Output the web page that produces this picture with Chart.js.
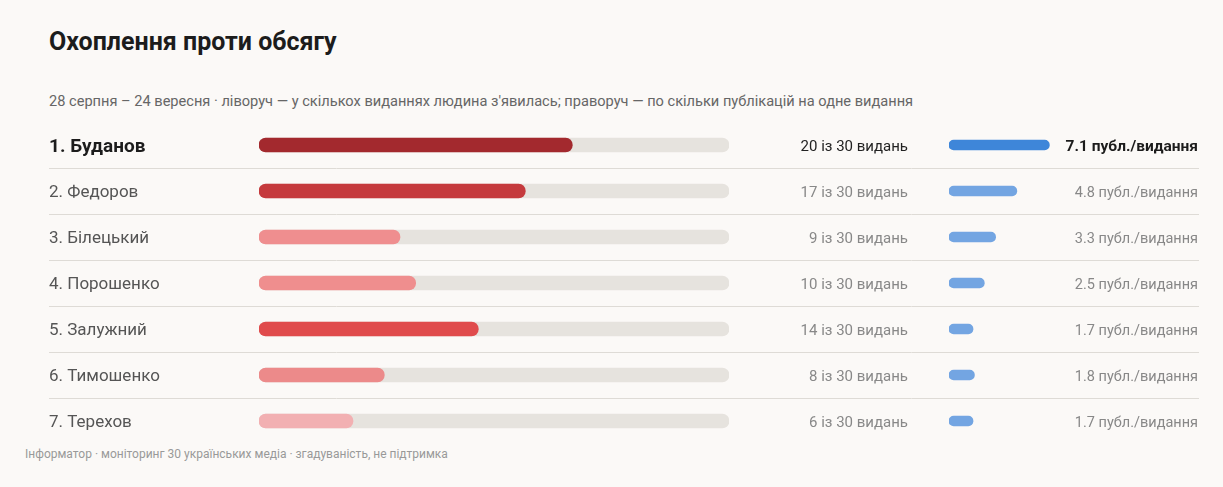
<!DOCTYPE html>
<html lang="uk">
<head>
<meta charset="utf-8">
<title>Охоплення проти обсягу</title>
<script src="https://cdn.jsdelivr.net/npm/chart.js@4.4.1/dist/chart.umd.min.js"></script>
<style>
    html, body {
        margin: 0;
        padding: 0;
        background: #fbf9f7;
        font-family: Roboto, "Noto Sans", sans-serif;
    }
    #page {
        position: relative;
        width: 1223px;
        height: 487px;
        overflow: hidden;
    }
    .title {
        position: absolute;
        left: 49px;
        top: 27px;
        font-size: 25px;
        font-weight: 700;
        color: #1c1c1c;
        white-space: nowrap;
    }
    .subtitle {
        position: absolute;
        left: 49px;
        top: 92px;
        font-size: 14.6px;
        color: #666;
        white-space: nowrap;
    }
    .footer {
        position: absolute;
        left: 25px;
        top: 447px;
        font-size: 12px;
        color: #999;
        white-space: nowrap;
    }
    .layer {
        position: absolute;
        left: 0;
        top: 122px;
        width: 1223px;
        height: 322px;
    }
</style>
</head>
<body>
<div id="page">
    <div class="title">Охоплення проти обсягу</div>
    <div class="subtitle">28 серпня – 24 вересня · ліворуч — у скількох виданнях людина з'явилась; праворуч — по скільки публікацій на одне видання</div>
    <div class="layer"><canvas id="coverageChart"></canvas></div>
    <div class="layer"><canvas id="volumeChart"></canvas></div>
    <div class="footer">Інформатор · моніторинг 30 українських медіа · згадуваність, не підтримка</div>
</div>

<script>
// People, in ranking order
const names = ['1. Буданов', '2. Федоров', '3. Білецький', '4. Порошенко', '5. Залужний', '6. Тимошенко', '7. Терехов'];

// How many of the 30 outlets mentioned the person
const outletsTotal = 30;
const outlets = [20, 17, 9, 10, 14, 8, 6];

// Publications per outlet
const pubsPerOutlet = [7.1, 4.8, 3.3, 2.5, 1.7, 1.8, 1.7];

const coverageColors = ['#a3292e', '#c53a3d', '#ef8e8f', '#ef8e8e', '#e04b4c', '#ec8a8a', '#f2b0b2'];
const volumeColors = ['#3e86d9', '#73a5e2', '#73a5e2', '#73a5e2', '#73a5e2', '#73a5e2', '#73a5e2'];

const coverageLabels = outlets.map(n => `${n} із ${outletsTotal} видань`);
const volumeLabels = pubsPerOutlet.map(v => `${v.toFixed(1)} публ./видання`);

Chart.defaults.font.family = 'Roboto, "Noto Sans", sans-serif';
Chart.defaults.animation = false;

// first row is the leader: bold and a touch larger
const leadFont = (size, leadSize) => (ctx) => ({
    size: ctx.index === 0 ? leadSize : size,
    weight: ctx.index === 0 ? '700' : '400'
});

// row axes: fixed width, no extra label padding so rows fill the area
const fixAxis = (width) => (scale) => {
    scale.width = width;
    scale.paddingTop = 0;
    scale.paddingBottom = 0;
};

// thin rules between rows, across the whole width
const rowRules = {
    id: 'rowRules',
    beforeDatasetsDraw(chart) {
        const y = chart.scales.y;
        const ctx = chart.ctx;
        ctx.save();
        ctx.strokeStyle = '#dedbd6';
        ctx.lineWidth = 1;
        for (let i = 0; i < names.length - 1; i++) {
            const py = Math.round((y.getPixelForValue(i) + y.getPixelForValue(i + 1)) / 2) + 0.5;
            ctx.beginPath();
            ctx.moveTo(49, py);
            ctx.lineTo(1199, py);
            ctx.stroke();
        }
        ctx.restore();
    }
};

/**
 * Left block: outlets out of 30
 */
new Chart(document.getElementById('coverageChart'), {
    type: 'bar',
    data: {
        labels: names,
        datasets: [{
            label: 'Видань',
            data: outlets,
            backgroundColor: coverageColors,
            barThickness: 14,
            borderRadius: 7,
            borderSkipped: false,
            grouped: false
        }, {
            label: 'Всього',
            data: names.map(() => outletsTotal),
            backgroundColor: '#e6e3de',
            barThickness: 14,
            borderRadius: 7,
            borderSkipped: false,
            grouped: false
        }]
    },
    options: {
        indexAxis: 'y',
        responsive: true,
        maintainAspectRatio: false,
        layout: { padding: { left: 49, right: 315, top: 0, bottom: 0 } },
        plugins: {
            legend: { display: false },
            tooltip: { enabled: false }
        },
        scales: {
            x: {
                display: false,
                min: 0,
                max: outletsTotal
            },
            y: {
                offset: true,
                grid: { display: false },
                border: { display: false },
                afterFit: fixAxis(210),
                ticks: {
                    crossAlign: 'far',
                    labelOffset: 2,
                    font: leadFont(17, 19),
                    color: (ctx) => ctx.index === 0 ? '#1c1c1c' : '#555'
                }
            },
            y2: {
                type: 'category',
                position: 'right',
                labels: coverageLabels,
                offset: true,
                grid: { display: false },
                border: { display: false },
                afterFit: fixAxis(179),
                ticks: {
                    crossAlign: 'far',
                    labelOffset: 2,
                    font: { size: 15 },
                    color: (ctx) => ctx.index === 0 ? '#222' : '#888'
                }
            }
        }
    },
    plugins: [rowRules]
});

/**
 * Right block: publications per outlet
 */
new Chart(document.getElementById('volumeChart'), {
    type: 'bar',
    data: {
        labels: volumeLabels,
        datasets: [{
            label: 'Публ./видання',
            data: pubsPerOutlet,
            backgroundColor: volumeColors,
            barThickness: 10,
            borderRadius: 5,
            borderSkipped: false
        }]
    },
    options: {
        indexAxis: 'y',
        responsive: true,
        maintainAspectRatio: false,
        layout: { padding: { left: 949, right: 25, top: 0, bottom: 0 } },
        plugins: {
            legend: { display: false },
            tooltip: { enabled: false }
        },
        scales: {
            x: {
                display: false,
                min: 0,
                max: 7.5
            },
            y: {
                position: 'right',
                offset: true,
                grid: { display: false },
                border: { display: false },
                afterFit: fixAxis(143),
                ticks: {
                    crossAlign: 'far',
                    labelOffset: 2,
                    font: leadFont(14.5, 15.5),
                    color: (ctx) => ctx.index === 0 ? '#1c1c1c' : '#888'
                }
            }
        }
    }
});
</script>
</body>
</html>
